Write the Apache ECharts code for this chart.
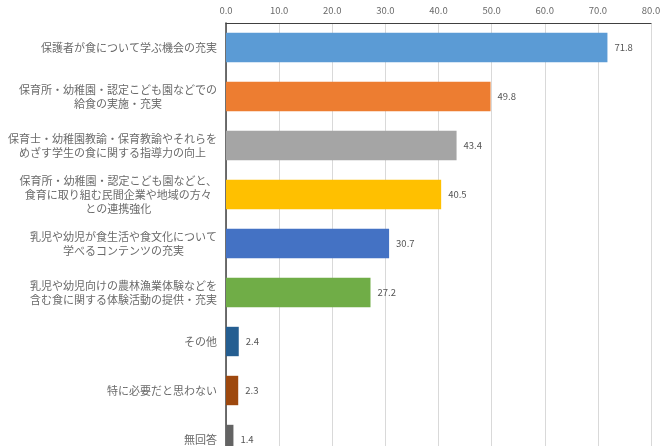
<!DOCTYPE html>
<html><head><meta charset="utf-8">
<script src="https://cdn.jsdelivr.net/npm/echarts@6/dist/echarts.min.js"></script>
<style>html,body{margin:0;padding:0;background:#fff;overflow:hidden}#c{width:672px;height:446px}</style>
</head><body><div id="c"></div>
<script>
const categories = [
  '保護者が食について学ぶ機会の充実',
  '保育所・幼稚園・認定こども園などでの\n給食の実施・充実',
  '保育士・幼稚園教諭・保育教諭やそれらを\nめざす学生の食に関する指導力の向上',
  '保育所・幼稚園・認定こども園などと、\n食育に取り組む民間企業や地域の方々\nとの連携強化',
  '乳児や幼児が食生活や食文化について\n学べるコンテンツの充実',
  '乳児や幼児向けの農林漁業体験などを\n含む食に関する体験活動の提供・充実',
  'その他',
  '特に必要だと思わない',
  '無回答'
];
const values = [71.8, 49.8, 43.4, 40.5, 30.7, 27.2, 2.4, 2.3, 1.4];
const tickValues = [0, 10, 20, 30, 40, 50, 60, 70, 80];
const palette = ['#5B9BD5','#ED7D31','#A5A5A5','#FFC000','#4472C4','#70AD47','#255E91','#9E480E','#636363'];

const font = '"Noto Sans CJK JP", "Noto Sans", sans-serif';
const chart = echarts.init(document.getElementById('c'), null, {renderer:'canvas'});
chart.setOption({
  animation: false,
  backgroundColor: '#fff',
  grid: { left: 226, width: 425, top: 23, height: 441, containLabel: false, outerBoundsMode: 'none' },
  xAxis: {
    type: 'value', position: 'top',
    min: tickValues[0], max: tickValues[tickValues.length-1], interval: 10,
    axisLine: { show: true, lineStyle: { color: '#404040', width: 1 } },
    axisTick: { show: false },
    splitLine: { show: true, lineStyle: { color: '#D9D9D9', width: 1 } },
    axisLabel: { color: '#6a6a6a', fontSize: 9.5, fontFamily: font, margin: 8,
      formatter: v => v.toFixed(1) }
  },
  yAxis: {
    type: 'category', inverse: true, data: categories,
    axisLine: { show: true, lineStyle: { color: '#404040', width: 1.5 } },
    axisTick: { show: false },
    axisLabel: {
      margin: 9, color: '#6a6a6a', fontFamily: font, fontSize: 11, lineHeight: 14,
      formatter: v => v.split('\n').map(s => '{c|' + s + '}').join('\n'),
      rich: { c: { align: 'center', color: '#6a6a6a', fontFamily: font, fontSize: 11, lineHeight: 14 } }
    }
  },
  series: [{
    type: 'bar',
    barCategoryGap: '40%',
    data: values.map((v, i) => ({ value: v, itemStyle: { color: palette[i] } })),
    label: { show: true, position: 'right', distance: 7, color: '#555555', fontSize: 9.5, fontFamily: font,
      formatter: p => p.value.toFixed(1) }
  }]
});
</script></body></html>
